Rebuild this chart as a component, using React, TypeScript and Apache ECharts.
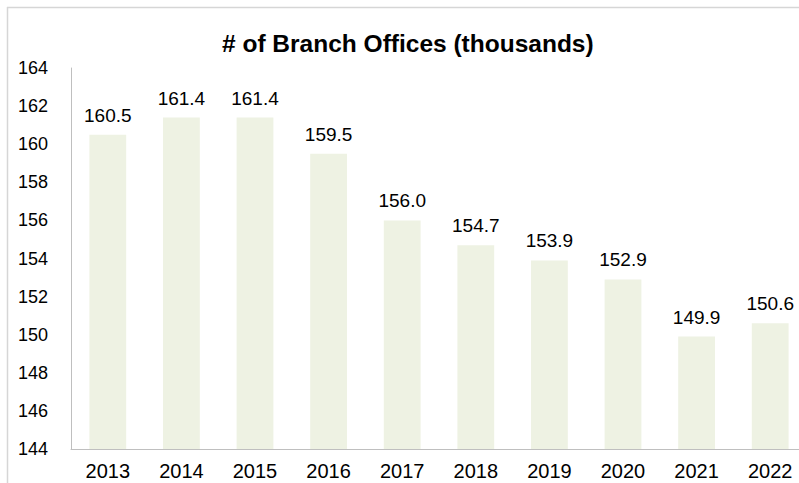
import React, { useEffect, useRef } from "react";
import * as echarts from "echarts";

const categories = ["2013", "2014", "2015", "2016", "2017", "2018", "2019", "2020", "2021", "2022"];
const values = [160.5, 161.4, 161.4, 159.5, 156.0, 154.7, 153.9, 152.9, 149.9, 150.6];
const titleText = "# of Branch Offices (thousands)";

const FONT = "'Liberation Sans', Arial, sans-serif";

export default function App() {
  const ref = useRef<HTMLDivElement>(null);
  useEffect(() => {
    if (!ref.current) return;
    const chart = echarts.init(ref.current, undefined, { renderer: "svg" });
    chart.setOption({
      animation: false,
      backgroundColor: "#ffffff",
      title: {
        text: titleText,
        left: 217,
        top: 26,
        textStyle: { fontFamily: FONT, fontSize: 24.5, fontWeight: "bold", color: "#000" },
      },
      graphic: [
        { type: "line", shape: { x1: 7.5, y1: 7, x2: 7.5, y2: 483 }, style: { stroke: "#d6d6d6", lineWidth: 1.5 } },
        { type: "line", shape: { x1: 7, y1: 7.5, x2: 799, y2: 7.5 }, style: { stroke: "#d6d6d6", lineWidth: 1.5 } },
      ],
      grid: {
        left: 71,
        top: 68,
        width: 736,
        height: 381,
        containLabel: false,
        outerBoundsMode: "none",
      },
      xAxis: {
        type: "category",
        data: categories,
        axisLine: { show: true, lineStyle: { color: "#bfbfbf", width: 1 } },
        axisTick: { show: false },
        axisLabel: { fontFamily: FONT, fontSize: 20, color: "#000", margin: 12 },
      },
      yAxis: {
        type: "value",
        min: 144,
        max: 164,
        interval: 2,
        axisLine: { show: true, lineStyle: { color: "#bfbfbf", width: 1 } },
        axisTick: { show: false },
        splitLine: { show: false },
        axisLabel: { fontFamily: FONT, fontSize: 18, color: "#000", margin: 23 },
      },
      series: [
        {
          type: "bar",
          data: values,
          barWidth: "50%",
          itemStyle: { color: "#EEF2E3" },
          label: {
            show: true,
            position: "top",
            distance: 10,
            fontFamily: FONT,
            fontSize: 19,
            color: "#000",
            formatter: (p: any) => Number(p.value).toFixed(1),
          },
        },
      ],
    });
    return () => chart.dispose();
  }, []);
  return (
    <div
      ref={ref}
      style={{ position: "absolute", left: 0, top: 0, width: 799, height: 483 }}
    />
  );
}
